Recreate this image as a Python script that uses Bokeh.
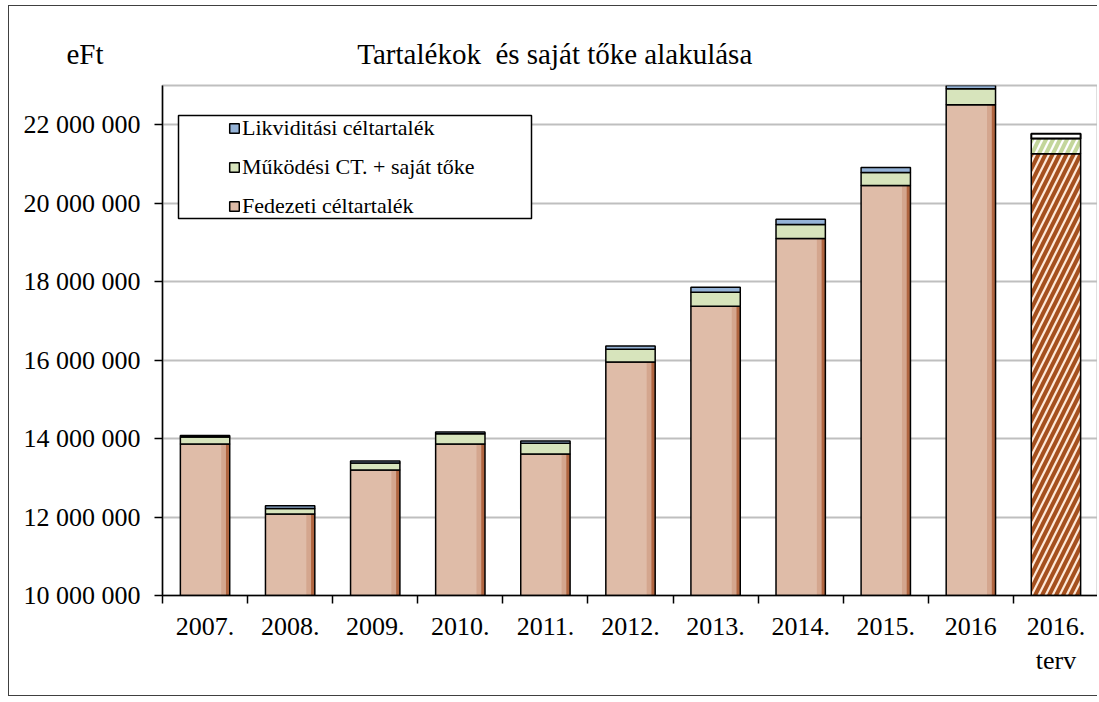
import numpy as np
from bokeh.plotting import figure
from bokeh.models import (Range1d, FixedTicker, Legend, LegendItem, BoxAnnotation)
from bokeh.embed import file_html
from bokeh.resources import INLINE

# ---- data (eFt) ----
years = ["2007.", "2008.", "2009.", "2010.", "2011.", "2012.", "2013.",
         "2014.", "2015.", "2016", "2016.\nterv"]
fedezeti = [13860000, 12080000, 13200000, 13860000, 13610000, 15950000,
            17370000, 19100000, 20450000, 22510000, 21260000]
mukodesi = [180000, 140000, 180000, 260000, 270000, 330000,
            360000, 360000, 330000, 410000, 390000]
likvid = [40000, 70000, 50000, 50000, 60000, 80000,
          130000, 130000, 130000, 80000, 120000]
y_ticks = [10000000, 12000000, 14000000, 16000000, 18000000, 20000000, 22000000]
y_labels = ["10 000 000", "12 000 000", "14 000 000", "16 000 000",
            "18 000 000", "20 000 000", "22 000 000"]
title_text = "Tartalékok \u00a0és saját tőke alakulása"
unit_text = "eFt"
names = ["Likviditási céltartalék", "Működési CT. + saját tőke", "Fedezeti céltartalék"]

FONT = "Liberation Serif"
Y0, Y1 = 10000000, 23000000

n = len(years)
xc = np.arange(n) + 0.5
f_top = np.array(fedezeti, dtype=float)
m_top = f_top + np.array(mukodesi, dtype=float)
l_top = m_top + np.array(likvid, dtype=float)

p = figure(width=1089, height=691, x_range=Range1d(0, n), y_range=Range1d(Y0, Y1),
           output_backend="svg", toolbar_location=None,
           min_border_left=153, min_border_right=0, min_border_top=79, min_border_bottom=102)
p.styles = {"border-left": "1px solid #404040", "border-top": "1px solid #404040",
            "border-bottom": "1px solid #404040", "margin": "5px 0px 0px 8px"}
p.background_fill_color = "white"
p.border_fill_color = "white"
p.outline_line_color = "#bfbfbf"
p.outline_line_width = 2

BW = 0.58
a = slice(0, n - 1)
b = slice(n - 1, n)
# actual years: fedezeti with a shaded right edge
rf = p.vbar(x=xc[a], bottom=Y0, top=f_top[a], width=BW, fill_color="#dfbca8",
            line_color=None)
p.vbar(x=xc[a] + BW / 2 - 0.05, bottom=Y0, top=f_top[a], width=0.10,
       fill_color="#d4a68e", line_color=None)
p.vbar(x=xc[a] + BW / 2 - 0.022, bottom=Y0, top=f_top[a], width=0.044,
       fill_color="#b06540", line_color=None)
rfo = p.vbar(x=xc[a], bottom=Y0, top=f_top[a], width=BW, fill_color=None,
             line_color="black", line_width=1.5)
rm = p.vbar(x=xc[a], bottom=f_top[a], top=m_top[a], width=BW, fill_color="#d7e4bc",
            line_color="black", line_width=1.5)
rl = p.vbar(x=xc[a], bottom=m_top[a], top=l_top[a], width=BW, fill_color="#95b3d7",
            line_color="black", line_width=1.5)
# plan bar (last)
p.vbar(x=xc[b], bottom=Y0, top=f_top[b], width=BW, fill_color="#fde9d9",
       hatch_pattern="/", hatch_color="#a5501e", hatch_weight=4, hatch_scale=14,
       line_color="black", line_width=1.5)
p.vbar(x=xc[b], bottom=f_top[b], top=m_top[b], width=BW, fill_color="white",
       hatch_pattern="/", hatch_color="#c3d69b", hatch_weight=4, hatch_scale=14,
       line_color="black", line_width=1.5)
p.vbar(x=xc[b], bottom=m_top[b], top=l_top[b], width=BW, fill_color="white",
       line_color="black", line_width=2)

# axes
yax = p.yaxis[0]
yax.ticker = FixedTicker(ticks=y_ticks)
yax.major_label_overrides = {float(t): l for t, l in zip(y_ticks, y_labels)}
yax.major_label_text_font = FONT
yax.major_label_text_font_size = "26px"
yax.major_label_text_color = "black"
yax.major_tick_out = 8
yax.major_tick_in = 0
yax.minor_tick_line_color = None
yax.axis_line_color = "black"
yax.axis_line_width = 1.5
yax.major_tick_line_width = 1.5
yax.major_label_standoff = 14

xax = p.xaxis[0]
xax.ticker = FixedTicker(ticks=list(xc), minor_ticks=list(range(n + 1)))
xax.major_label_overrides = {float(x): l for x, l in zip(xc, years)}
xax.major_label_text_font = FONT
xax.major_label_text_font_size = "26px"
xax.major_label_text_color = "black"
xax.major_tick_line_color = None
xax.major_tick_out = 8
xax.minor_tick_out = 8
xax.minor_tick_in = 0
xax.minor_tick_line_color = "black"
xax.minor_tick_line_width = 1.5
xax.axis_line_color = "black"
xax.axis_line_width = 1.5
xax.major_label_standoff = 8

p.ygrid.ticker = FixedTicker(ticks=y_ticks)
p.ygrid.grid_line_color = "#bfbfbf"
p.ygrid.grid_line_width = 2
p.xgrid.visible = False

# unit + title share the title line above the plot area
p.title.text = unit_text + "\u00a0" * 35 + title_text
p.title.align = "left"
p.title.offset = -96
p.title.standoff = 31
p.title.text_font = FONT
p.title.text_font_size = "29px"
p.title.text_font_style = "normal"
p.title.text_color = "black"

# legend box + legend
p.add_layout(BoxAnnotation(left=16, right=369, top=480, bottom=377,
                           left_units="screen", right_units="screen",
                           top_units="screen", bottom_units="screen",
                           fill_color="white", fill_alpha=1.0,
                           line_color="black", line_width=1.5, line_alpha=1.0))
legend = Legend(items=[LegendItem(label=names[0], renderers=[rl]),
                       LegendItem(label=names[1], renderers=[rm]),
                       LegendItem(label=names[2], renderers=[rf, rfo])],
                location=(62, 372), orientation="vertical")
legend.background_fill_alpha = 0
legend.border_line_alpha = 0
legend.padding = 4
legend.margin = 0
legend.spacing = 13
legend.glyph_width = 12
legend.glyph_height = 12
legend.label_height = 24
legend.label_standoff = 2
legend.label_text_font = FONT
legend.label_text_font_size = "22px"
legend.label_text_color = "black"
p.add_layout(legend)

open("out.html", "w").write(file_html(p, INLINE))
